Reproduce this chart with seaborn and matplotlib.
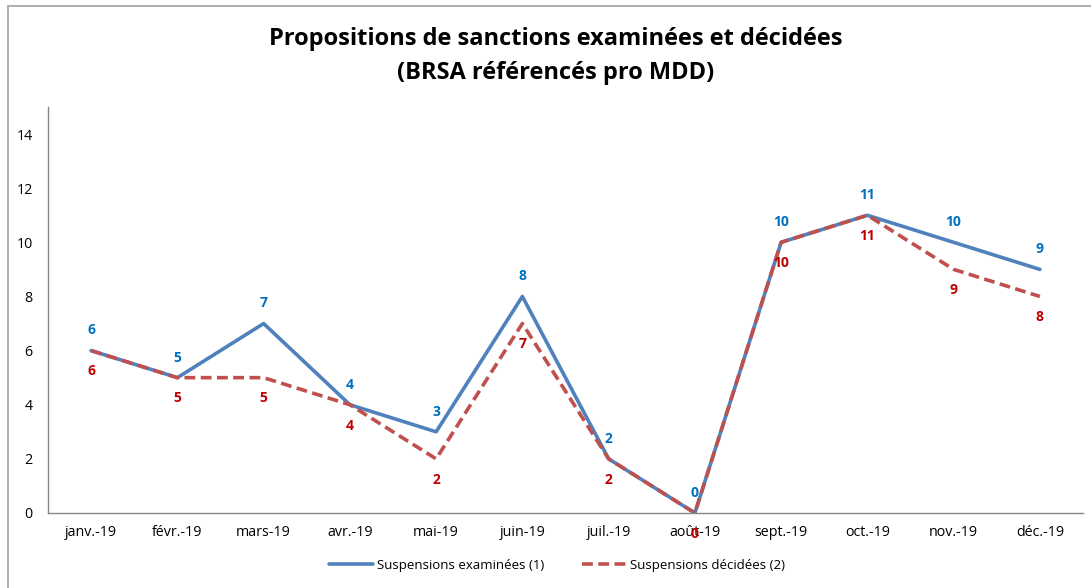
import matplotlib
matplotlib.use("Agg")
import matplotlib.pyplot as plt
import seaborn as sns
import pandas as pd
import numpy as np
from matplotlib.patches import Rectangle

# data
mois = ["janv.-19", "févr.-19", "mars-19", "avr.-19", "mai-19", "juin-19",
        "juil.-19", "août-19", "sept.-19", "oct.-19", "nov.-19", "déc.-19"]
examinees = [6, 5, 7, 4, 3, 8, 2, 0, 10, 11, 10, 9]
decidees = [6, 5, 5, 4, 2, 7, 2, 0, 10, 11, 9, 8]

nom_exam = "Suspensions examinées (1)"
nom_dec = "Suspensions décidées (2)"

sns.set_style("white")
plt.rcParams["font.family"] = ["Open Sans", "DejaVu Sans"]
plt.rcParams["text.color"] = "black"
plt.rcParams["xtick.color"] = "black"
plt.rcParams["ytick.color"] = "black"

df = pd.DataFrame({"mois": mois * 2,
                   "valeur": examinees + decidees,
                   "serie": [nom_exam] * len(mois) + [nom_dec] * len(mois)})

fig = plt.figure(figsize=(10.91, 5.88), dpi=100)
ax = fig.add_axes([48 / 1091, 1 - 513 / 588, (1083 - 48) / 1091, (513 - 107) / 588])

palette = {nom_exam: "#4F81BD", nom_dec: "#C0504D"}
sns.lineplot(data=df, x="mois", y="valeur", hue="serie", style="serie",
             palette=palette, dashes={nom_exam: "", nom_dec: (3, 1.5)},
             linewidth=2.6, sort=False, ax=ax)

# data labels
for i, v in enumerate(examinees):
    ax.annotate(str(v), (i, v), xytext=(0, 14.5), textcoords="offset points",
                ha="center", va="center", color="#0070C0", fontsize=10, fontweight="bold")
for i, v in enumerate(decidees):
    ax.annotate(str(v), (i, v), xytext=(0, -15), textcoords="offset points",
                ha="center", va="center", color="#C00000", fontsize=10, fontweight="bold")

ax.set_xlim(-0.5, len(mois) - 0.5)
ax.set_ylim(0, 15)
ax.set_yticks(np.arange(0, 15, 2))
ax.set_xticks(range(len(mois)))
ax.set_xticklabels(mois)
ax.set_xticks(np.arange(-0.5, len(mois), 1), minor=True)
ax.tick_params(axis="x", which="major", length=0, pad=9, labelsize=10.3)
ax.tick_params(axis="x", which="minor", length=5, color="#868686", direction="out")
ax.tick_params(axis="y", length=5, color="#868686", labelcolor="black",
               direction="out", labelsize=10.3, pad=6)
ax.set_xlabel("")
ax.set_ylabel("")
for s in ["top", "right"]:
    ax.spines[s].set_visible(False)
for s in ["left", "bottom"]:
    ax.spines[s].set_color("#868686")
    ax.spines[s].set_linewidth(1)

fig.text(0.509, 1 - 39 / 588, "Propositions de sanctions examinées et décidées",
         ha="center", va="center", fontsize=17, fontweight="bold")
fig.text(0.509, 1 - 73 / 588, "(BRSA référencés pro MDD)",
         ha="center", va="center", fontsize=17, fontweight="bold")

ax.legend(loc="center", bbox_to_anchor=(557 / 1091, 1 - 565 / 588),
          bbox_transform=fig.transFigure, ncol=2, frameon=False,
          fontsize=9.5, handlelength=3.4, columnspacing=2.8, handletextpad=0.3)

# outer frame of the chart area
fig.patches.append(Rectangle((8 / 1091, -0.2), 1.2, 1.2 - 6 / 588,
                             transform=fig.transFigure, fill=False,
                             edgecolor="#A0A0A0", linewidth=1.2))

fig.savefig("out.png", dpi=100)
